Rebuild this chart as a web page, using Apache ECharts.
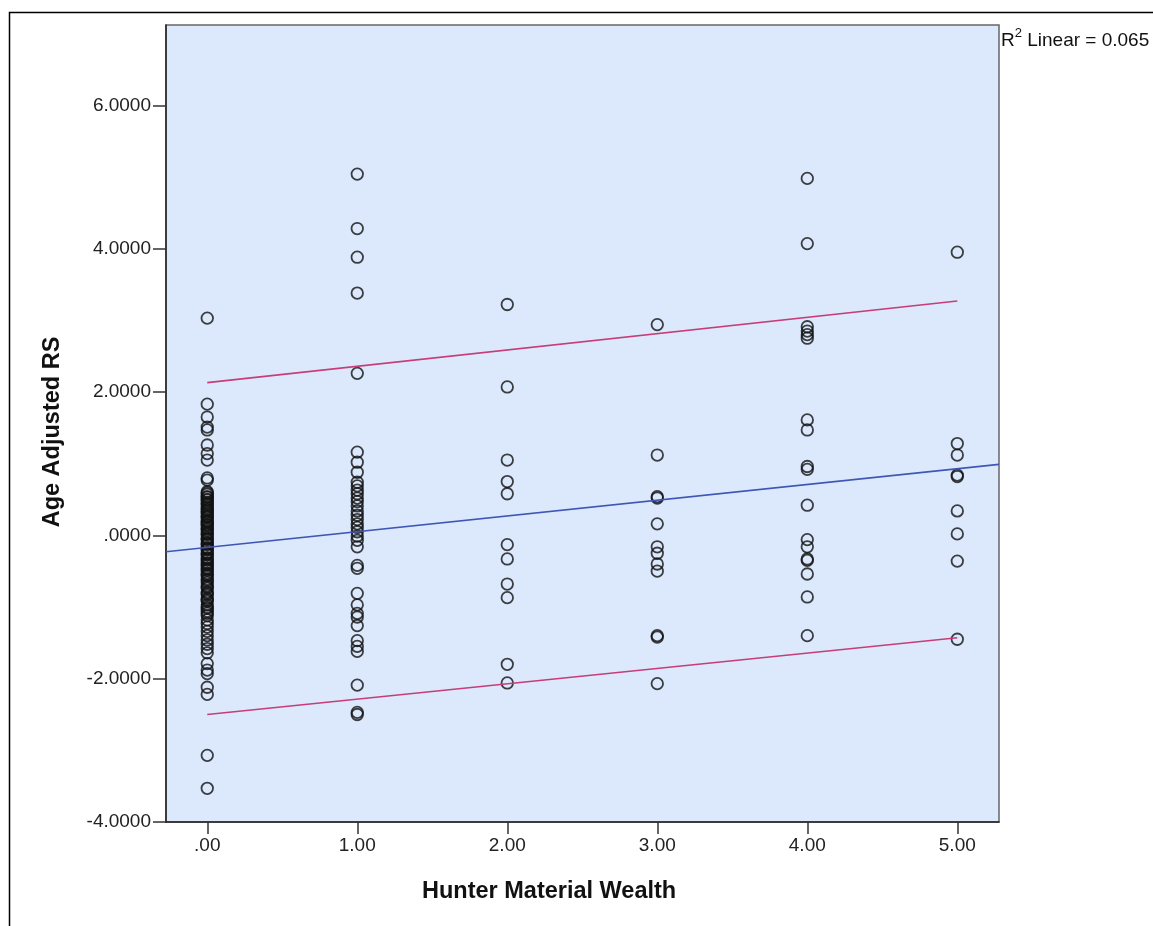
<!DOCTYPE html>
<html>
<head>
<meta charset="utf-8">
<script src="https://cdn.jsdelivr.net/npm/echarts@6/dist/echarts.min.js"></script>
<style>
html,body{margin:0;padding:0;background:#fff;}
#chart{width:1153px;height:926px;}
</style>
</head>
<body>
<div id="chart"></div>
<script>
// ---- data ----
const xTicks = [0, 1, 2, 3, 4, 5];
const xTickLabels = ['.00', '1.00', '2.00', '3.00', '4.00', '5.00'];
const yTicks = [-4, -2, 0, 2, 4, 6];
const yTickLabels = ['-4.0000', '-2.0000', '.0000', '2.0000', '4.0000', '6.0000'];

const wealth0 = [3.03, 1.83, 1.65, 1.51, 1.47, 1.26, 1.14, 1.05, 0.80, 0.77,
  0.61, 0.59, 0.57, 0.54, 0.53, 0.50, 0.49, 0.46, 0.44, 0.42, 0.39, 0.37, 0.35,
  0.33, 0.31, 0.28, 0.26, 0.25, 0.21, 0.19, 0.18, 0.15, 0.14, 0.11, 0.09, 0.07,
  0.04, 0.02, 0.01, -0.03, -0.05, -0.06, -0.10, -0.12, -0.13, -0.17, -0.19,
  -0.20, -0.24, -0.26, -0.27, -0.31, -0.33, -0.35, -0.38, -0.40, -0.42, -0.45,
  -0.47, -0.49, -0.53, -0.55, -0.57, -0.61, -0.63, -0.66, -0.70, -0.72, -0.74,
  -0.79, -0.81, -0.83, -0.88, -0.90, -0.92, -0.97, -1.00, -1.02, -1.06, -1.09,
  -1.12, -1.18, -1.23, -1.28, -1.34, -1.40, -1.46, -1.52, -1.58, -1.64, -1.79,
  -1.88, -1.93, -2.12, -2.22, -3.07, -3.53];
const wealth1 = [5.04, 4.28, 3.88, 3.38, 2.26, 1.16, 1.02, 0.88, 0.74, 0.69,
  0.63, 0.58, 0.52, 0.47, 0.41, 0.34, 0.28, 0.22, 0.16, 0.11, 0.05, -0.01,
  -0.07, -0.16, -0.42, -0.46, -0.81, -0.97, -1.09, -1.14, -1.26, -1.47, -1.55,
  -1.62, -2.09, -2.47, -2.50];
const wealth2 = [3.22, 2.07, 1.05, 0.75, 0.58, -0.13, -0.33, -0.68, -0.87, -1.80, -2.06];
const wealth3 = [2.94, 1.12, 0.54, 0.52, 0.16, -0.16, -0.25, -0.40, -0.50, -1.40, -1.42, -2.07];
const wealth4 = [4.98, 4.07, 2.91, 2.85, 2.80, 2.75, 1.61, 1.47, 0.96, 0.92, 0.42,
  -0.06, -0.16, -0.33, -0.35, -0.54, -0.86, -1.40];
const wealth5 = [3.95, 1.28, 1.12, 0.84, 0.82, 0.34, 0.02, -0.36, -1.45];

// fit line and prediction interval end points
const fitX = [-0.275, 5.278];
const fitY = [-0.23, 0.99];
const upperX = [0, 5];
const upperY = [2.13, 3.27];
const lowerX = [0, 5];
const lowerY = [-2.50, -1.43];

const groups = [wealth0, wealth1, wealth2, wealth3, wealth4, wealth5];
const points = [];
groups.forEach((g, i) => g.forEach(v => points.push([xTicks[i], v])));
const pair = (xs, ys) => xs.map((x, i) => [x, ys[i]]);

const chart = echarts.init(document.getElementById('chart'));
const FONT = 'Liberation Sans, Arial, sans-serif';
chart.setOption({
  animation: false,
  backgroundColor: '#ffffff',
  grid: {
    left: 166, right: 154, top: 25, bottom: 104,
    show: true, backgroundColor: '#dce9fc', borderColor: '#666', borderWidth: 1.5
  },
  xAxis: {
    type: 'value', min: -0.275, max: 5.278,
    axisLine: { show: true, onZero: false, lineStyle: { color: '#222', width: 1.5 } },
    axisTick: { show: true, customValues: xTicks, length: 12, lineStyle: { color: '#333', width: 1.5 } },
    axisLabel: {
      customValues: xTicks, margin: 14, color: '#222', fontSize: 19, fontFamily: FONT,
      formatter: v => xTickLabels[xTicks.indexOf(v)]
    },
    splitLine: { show: false }
  },
  yAxis: {
    type: 'value', min: -4, max: 7.12,
    axisLine: { show: true, onZero: false, lineStyle: { color: '#222', width: 1.5 } },
    axisTick: { show: true, customValues: yTicks, length: 13, lineStyle: { color: '#333', width: 1.5 } },
    axisLabel: {
      customValues: yTicks, margin: 15, color: '#222', fontSize: 19, fontFamily: FONT,
      formatter: v => yTickLabels[yTicks.indexOf(v)]
    },
    splitLine: { show: false }
  },
  series: [
    {
      type: 'scatter', data: points, symbol: 'circle', symbolSize: 11.5, z: 2,
      itemStyle: { color: 'rgba(0,0,0,0)', borderColor: '#111', borderWidth: 1.8 }
    },
    {
      type: 'line', data: pair(fitX, fitY), symbol: 'none', z: 3,
      lineStyle: { color: '#3f56b5', width: 1.6 }
    },
    {
      type: 'line', data: pair(upperX, upperY), symbol: 'none', z: 3,
      lineStyle: { color: '#c83c78', width: 1.6 }
    },
    {
      type: 'line', data: pair(lowerX, lowerY), symbol: 'none', z: 3,
      lineStyle: { color: '#c83c78', width: 1.6 }
    }
  ],
  graphic: [
    {
      type: 'rect', silent: true, z: -10,
      shape: { x: 9.5, y: 12.5, width: 1200, height: 1000 },
      style: { fill: null, stroke: '#000', lineWidth: 1.5 }
    },
    {
      type: 'text', left: 422, top: 880,
      style: { text: 'Hunter Material Wealth', font: 'bold 23.5px ' + FONT, fill: '#111' }
    },
    {
      type: 'text', x: 53, y: 432, rotation: Math.PI / 2,
      style: { text: 'Age Adjusted RS', font: 'bold 23.5px ' + FONT, fill: '#111',
        align: 'center', verticalAlign: 'middle' }
    },
    {
      type: 'text', x: 1001, y: 27,
      style: {
        text: '{r|R}{s|2}{t| Linear = 0.065}',
        rich: {
          r: { fontSize: 19, fontFamily: FONT, fill: '#111', verticalAlign: 'bottom', lineHeight: 23 },
          s: { fontSize: 13, fontFamily: FONT, fill: '#111', verticalAlign: 'top', lineHeight: 23 },
          t: { fontSize: 19, fontFamily: FONT, fill: '#111', verticalAlign: 'bottom', lineHeight: 23 }
        }
      }
    }
  ]
});
</script>
</body>
</html>
